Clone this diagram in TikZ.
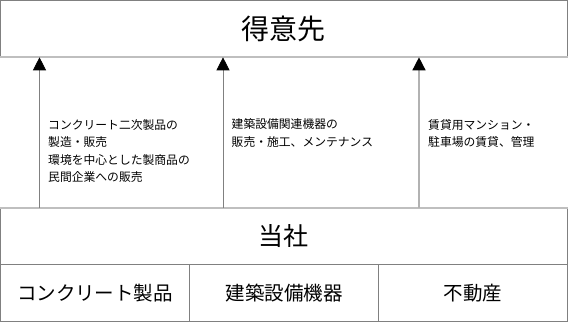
\documentclass[tikz,border=0pt]{standalone}
\usepackage{fontspec}
\usepackage{tikz}
\usetikzlibrary{arrows.meta,positioning,calc}
\newfontfamily\jp{Noto Sans CJK JP}

\begin{document}
\begin{tikzpicture}[
    x=1pt, y=-1pt,
    >={Triangle[length=13pt, width=13pt, black]},
    bigbox/.style={draw=black!50, line width=0.8pt, minimum width=567pt, minimum height=56pt, inner sep=0pt, align=center},
    cell/.style={draw=black!50, line width=0.8pt, minimum width=189pt, minimum height=57pt, inner sep=0pt, align=center, font=\jp\fontsize{19.5}{22}\selectfont},
    lightedge/.style={black!25, line width=1.6pt},
    flow/.style={->, draw=black!50, line width=0.8pt, shorten >=0.4pt},
    note/.style={anchor=north west, inner sep=0pt, align=left, font=\jp\fontsize{11.8}{17.6}\selectfont},
]
\useasboundingbox (0,0) rectangle (568,322);

% Customer box
\node[bigbox, font=\jp\fontsize{28}{32}\selectfont] (customer) at (283.9, 28.5) {得意先};
\draw[lightedge] (customer.south west) -- (customer.south east);

% Company box and its three business segments
\node[bigbox, font=\jp\fontsize{25}{30}\selectfont] (company) at (283.9, 236.2) {当社};
\node[cell] (concrete) at (95, 292.7) {コンクリート製品};
\node[cell] (equipment) at (284, 292.7) {建築設備機器};
\node[cell] (estate) at (473, 292.7) {不動産};
\draw[lightedge] (company.north west) -- (company.north east);

% Flows from company to customers
\coordinate (c1) at (39.5, 0);
\coordinate (c2) at (223, 0);
\coordinate (c3) at (419, 0);
\draw[flow] (c1 |- company.north) -- (c1 |- customer.south);
\draw[flow] (c2 |- company.north) -- (c2 |- customer.south);
\draw[flow, draw=black!30, line width=1.4pt] (c3 |- company.north) -- (c3 |- customer.south);

% Notes beside each flow
\node[note] (note1) at (48, 119) {コンクリート二次製品の\\製造・販売\\環境を中心とした製商品の\\民間企業への販売};
\node[note] (note2) at (231.5, 118.5) {建築設備関連機器の\\販売・施工、メンテナンス};
\node[note] (note3) at (428, 119) {賃貸用マンション・\\駐車場の賃貸、管理};

\end{tikzpicture}
\end{document}
